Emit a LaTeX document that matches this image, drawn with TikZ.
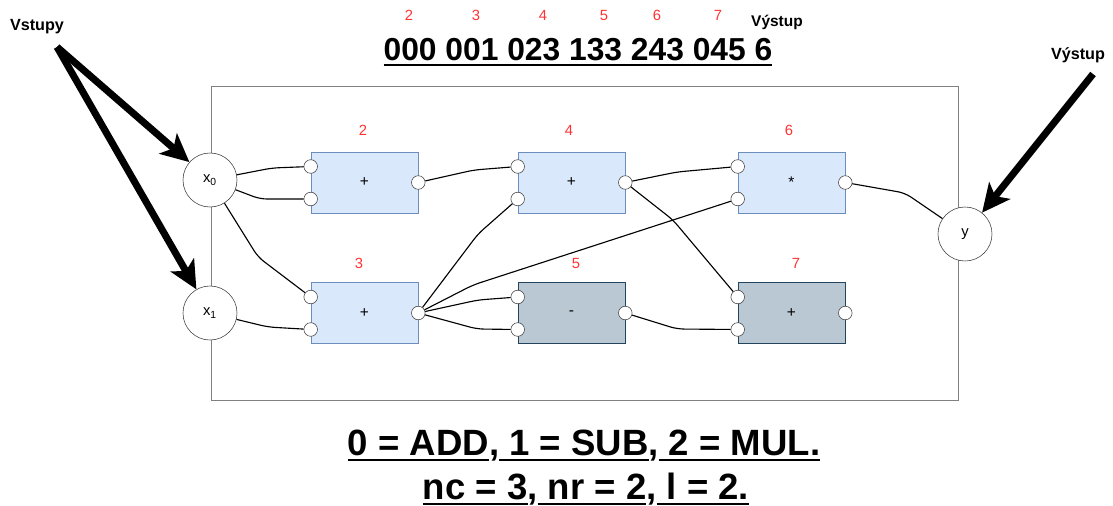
\documentclass[tikz,border=0pt]{standalone}
\usepackage{fontspec}
\setmainfont{Liberation Sans}
\usetikzlibrary{positioning, arrows.meta, calc}

\definecolor{cervena}{HTML}{FF3333}
\definecolor{modraF}{HTML}{DAE8FC}
\definecolor{modraD}{HTML}{6C8EBF}
\definecolor{sedaF}{HTML}{BAC8D3}
\definecolor{sedaD}{HTML}{23445D}

\newcommand{\podtrhni}[1]{{\setbox0\hbox{#1}\dp0=0pt\leavevmode\vtop{\box0\kern2.5pt\hrule height 2pt}}}

\begin{document}
\begin{tikzpicture}[x=0.025cm, y=-0.025cm,
    vstup/.style={circle, draw=black!75, fill=white, minimum size=1.35cm, inner sep=0pt, font=\fontsize{10.5}{12}\selectfont},
    blok/.style={rectangle, draw=modraD, fill=modraF, minimum width=2.675cm, minimum height=1.525cm, font=\fontsize{11}{12}\selectfont},
    blokseda/.style={blok, draw=sedaD, fill=sedaF},
    port/.style={circle, draw=black!75, fill=white, minimum size=0.34cm, inner sep=0pt},
    cislo/.style={text=cervena, font=\fontsize{10.5}{12}\selectfont},
    malecislo/.style={text=cervena, font=\fontsize{10.5}{12}\selectfont, anchor=base},
    spoj/.style={black, line width=0.8pt, rounded corners=5pt},
    sipka/.style={line width=5pt, -{Stealth[length=20pt, width=19pt, inset=5pt]}},
    popis/.style={font=\bfseries\fontsize{11.5}{13}\selectfont}]

% Bounding box
\useasboundingbox (0,0) rectangle (1113,506);

% Frame
\draw[gray, line width=0.6pt] (211,86) rectangle (958,400);

% Inputs and output
\node[vstup] (x0) at (210,180) {x\textsubscript{0}};
\node[vstup] (x1) at (210,313) {x\textsubscript{1}};
\node[vstup] (y) at (965,234) {y};

% Blocks
\node[blok] (b2) at (364.5,182.5) {+};
\node[blok] (b4) at (571.5,182.5) {+};
\node[blok] (b6) at (791.5,182.5) {*};
\node[blok] (b3) at (364.5,313) {+};
\node[blokseda] (b5) at (571.5,313) {-};
\node[blokseda] (b7) at (791.5,313) {+};

% Block numbers
\node[cislo] (n2) at (363,130) {2};
\node[cislo] (n4) at (569,130) {4};
\node[cislo] (n6) at (789,130) {6};
\node[cislo] (n3) at (359,263) {3};
\node[cislo] (n5) at (576,263) {5};
\node[cislo] (n7) at (796,263) {7};

% Ports
\foreach \b in {b2,b3,b4,b5,b6,b7} {
    \node[port] (\b-i1) at ($(\b.west)+(0,-16)$) {};
    \node[port] (\b-i2) at ($(\b.west)+(0,16.5)$) {};
    \node[port] (\b-o) at (\b.east) {};
}

% Connections
\draw[spoj] (x0) -- (272,168) -- (b2-i1);
\draw[spoj] (x0) -- (260,199) -- (b2-i2);
\draw[spoj] (x0) -- (258,257) -- (b3-i1);
\draw[spoj] (x1) -- (268,327) -- (b3-i2);
\draw[spoj] (b2-o) -- (474,170) -- (b4-i1);
\draw[spoj] (b3-o) -- (478,234) -- (b4-i2);
\draw[spoj] (b3-o) -- (473,285) -- (b6-i2);
\draw[spoj] (b3-o) -- (478,300) -- (b5-i1);
\draw[spoj] (b3-o) -- (477,329) -- (b5-i2);
\draw[spoj] (b4-o) -- (677,172) -- (b6-i1);
\draw[spoj] (b4-o) -- (673,220) -- (b7-i1);
\draw[spoj] (b5-o) -- (677,329) -- (b7-i2);
\draw[spoj] (b6-o) -- (905,193) -- (y);

% Labels and thick arrows
\node[popis] (vst) at (37,27) {Vstupy};
\coordinate (vst-z) at (57,47);
\draw[sipka] (vst-z) -- (x0);
\draw[sipka] (vst-z) -- (x1);

\node[popis] (vyst) at (1078,55) {Výstup};
\coordinate (vyst-z) at (1093,74);
\draw[sipka] (vyst-z) -- (y);

% Genome
\node[anchor=base, font=\bfseries\fontsize{22.6}{26}\selectfont] (kod) at (578,60) {\podtrhni{000 001 023 133 243 045 6}};
\foreach \c/\x in {2/409, 3/476, 4/543, 5/604, 6/657, 7/718} {
    \node[malecislo] (k\c) at (\x,21) {\c};
}
\node[anchor=base, font=\bfseries\fontsize{11}{13}\selectfont] (kvyst) at (777,26) {Výstup};

% Legend
\node[anchor=base, font=\bfseries\fontsize{26}{30}\selectfont] (radek1) at (584,455) {\podtrhni{0 = ADD},\podtrhni{ 1 = SUB},\podtrhni{ 2 = MUL.}};
\node[anchor=base, font=\bfseries\fontsize{26}{30}\selectfont] (radek2) at (586,499) {\podtrhni{nc = 3},\podtrhni{ nr = 2},\podtrhni{ l = 2.}};

\end{tikzpicture}
\end{document}
